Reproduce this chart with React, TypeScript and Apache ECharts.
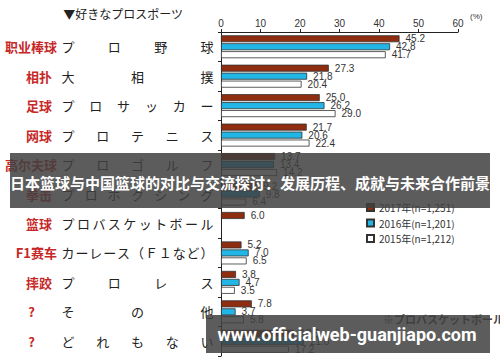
import React, { useEffect, useRef } from 'react';
import * as echarts from 'echarts';

const categories = ['职业棒球', '相扑', '足球', '网球', '高尔夫球', '拳击', '篮球', 'F1赛车', '摔跤', '?', '?'];
const jpLabels = ['プロ野球', '大相撲', 'プロサッカー', 'プロテニス', 'プロゴルフ', 'プロボクシング', 'プロバスケットボール', 'カーレース（Ｆ１など）', 'プロレス', 'その他', 'どれもない'];
const seriesNames = ['2017年(n=1,251)', '2016年(n=1,201)', '2015年(n=1,212)'];
const v2017 = [45.2, 27.3, 25.0, 21.7, 13.7, 9.2, 6.0, 5.2, 3.8, 7.8, 18.5];
const v2016 = [42.8, 21.8, 26.2, 20.6, 13.4, 9.8, null, 7.0, 4.7, 3.7, 21.0];
const v2015 = [41.7, 20.4, 29.0, 22.4, 14.2, 6.4, null, 6.5, 3.5, 5.8, 17.2];
const seriesColors = ['#8e2d10', '#22b6e6', '#ffffff'];
const titleText = '▼好きなプロスポーツ';
const unitText = '(%)';
const noteText = '※プロバスケットボール(';
const bannerText = '日本篮球与中国篮球的对比与交流探讨：发展历程、成就与未来合作前景';
const urlText = 'www.officialweb-guanjiapo.com';

const JP = "'Noto Sans CJK JP', 'Noto Sans CJK SC', sans-serif";
const SC = "'Noto Sans CJK SC', sans-serif";
const NUM = "'Liberation Sans', Arial, sans-serif";

export default function App() {
  const ref = useRef<HTMLDivElement>(null);
  useEffect(() => {
    const chart = echarts.init(ref.current!, null, { renderer: 'svg' });
    const mk = (name: string, data: (number | null)[], color: string) => ({
      name,
      type: 'bar',
      data,
      barWidth: 7,
      barGap: '14%',
      itemStyle: { color, borderColor: '#333', borderWidth: 0.8 },
      label: {
        show: true,
        position: 'right',
        distance: 6,
        fontSize: 10,
        color: '#333',
        fontFamily: NUM,
        formatter: (p: any) => (p.value == null ? '' : Number(p.value).toFixed(1)),
      },
    });
    const labStyle = { fontSize: 13, fontWeight: 'bold', color: '#c62828', fontFamily: SC };
    chart.setOption({
      animation: false,
      backgroundColor: '#ffffff',
      grid: { left: 221, right: 42, top: 32, bottom: 6 },
      legend: {
        orient: 'vertical',
        left: 361,
        top: 197,
        itemWidth: 7,
        itemHeight: 7,
        itemGap: 4.5,
        icon: 'rect',
        data: seriesNames,
        textStyle: { fontSize: 10, color: '#333', fontFamily: JP, lineHeight: 11 },
      },
      xAxis: {
        type: 'value',
        position: 'top',
        min: 0,
        max: 60,
        interval: 10,
        axisLine: { show: true, lineStyle: { color: '#222', width: 1 } },
        axisTick: { show: true, length: 3, lineStyle: { color: '#222' } },
        axisLabel: { fontSize: 10, color: '#333', fontFamily: NUM, margin: 4 },
        splitLine: { show: false },
      },
      yAxis: {
        type: 'category',
        inverse: true,
        data: categories,
        axisLine: { show: true, lineStyle: { color: '#222', width: 1 } },
        axisTick: { show: true, length: 3, lineStyle: { color: '#222' } },
        axisLabel: {
          margin: 164,
          ...labStyle,
          formatter: (v: string) => (v === '?' ? '{q|' + v + '}' : v.length === 2 ? '{s|' + v + '}' : v),
          rich: {
            q: { ...labStyle, padding: [0, 22, 0, 0] },
            s: { ...labStyle, padding: [0, 5, 0, 0] },
          },
        },
      },
      series: [mk(seriesNames[0], v2017, seriesColors[0]), mk(seriesNames[1], v2016, seriesColors[1]), mk(seriesNames[2], v2015, seriesColors[2])],
    });

    const graphic: any[] = [];
    graphic.push({ type: 'text', x: 123, y: 13, style: { text: titleText, fontSize: 12, fill: '#222', fontFamily: JP, align: 'center', verticalAlign: 'middle' } });
    graphic.push({ type: 'text', x: 470, y: 16, style: { text: unitText, fontSize: 8, fill: '#333', fontFamily: NUM, align: 'left', verticalAlign: 'middle' } });
    jpLabels.forEach((lab, i) => {
      const y = chart.convertToPixel({ yAxisIndex: 0 }, i) as number;
      const chars = Array.from(lab);
      const x0 = 68, x1 = 207;
      chars.forEach((c, j) => {
        const x = chars.length > 1 ? x0 + ((x1 - x0) * j) / (chars.length - 1) : x0;
        graphic.push({ type: 'text', x, y, style: { text: c, fontSize: 13, fill: '#222', fontFamily: JP, align: 'center', verticalAlign: 'middle' } });
      });
    });
    graphic.push({ type: 'text', x: 383, y: 319, z: 10, style: { text: noteText, fontSize: 11, fontWeight: 'bold', fill: '#444', fontFamily: JP, align: 'left', verticalAlign: 'middle' } });
    graphic.push({ type: 'rect', z: 100, shape: { x: 10, y: 153, width: 480, height: 55 }, style: { fill: 'rgba(63,63,63,0.85)' } });
    graphic.push({ type: 'text', z: 101, x: 250, y: 182, style: { text: bannerText, fontSize: 15, fontWeight: 'bold', fill: '#ffffff', fontFamily: SC, align: 'center', verticalAlign: 'middle' } });
    graphic.push({ type: 'rect', z: 100, shape: { x: 206, y: 315, width: 284, height: 38 }, style: { fill: 'rgba(63,63,63,0.85)' } });
    graphic.push({ type: 'text', z: 101, x: 347, y: 334, style: { text: urlText, fontSize: 18, fontWeight: 'bold', fill: '#ffffff', fontFamily: "Roboto, 'Open Sans', sans-serif", align: 'center', verticalAlign: 'middle' } });
    chart.setOption({ graphic });

    return () => chart.dispose();
  }, []);
  return <div ref={ref} style={{ position: 'fixed', left: 0, top: 0, width: 500, height: 362 }} />;
}
